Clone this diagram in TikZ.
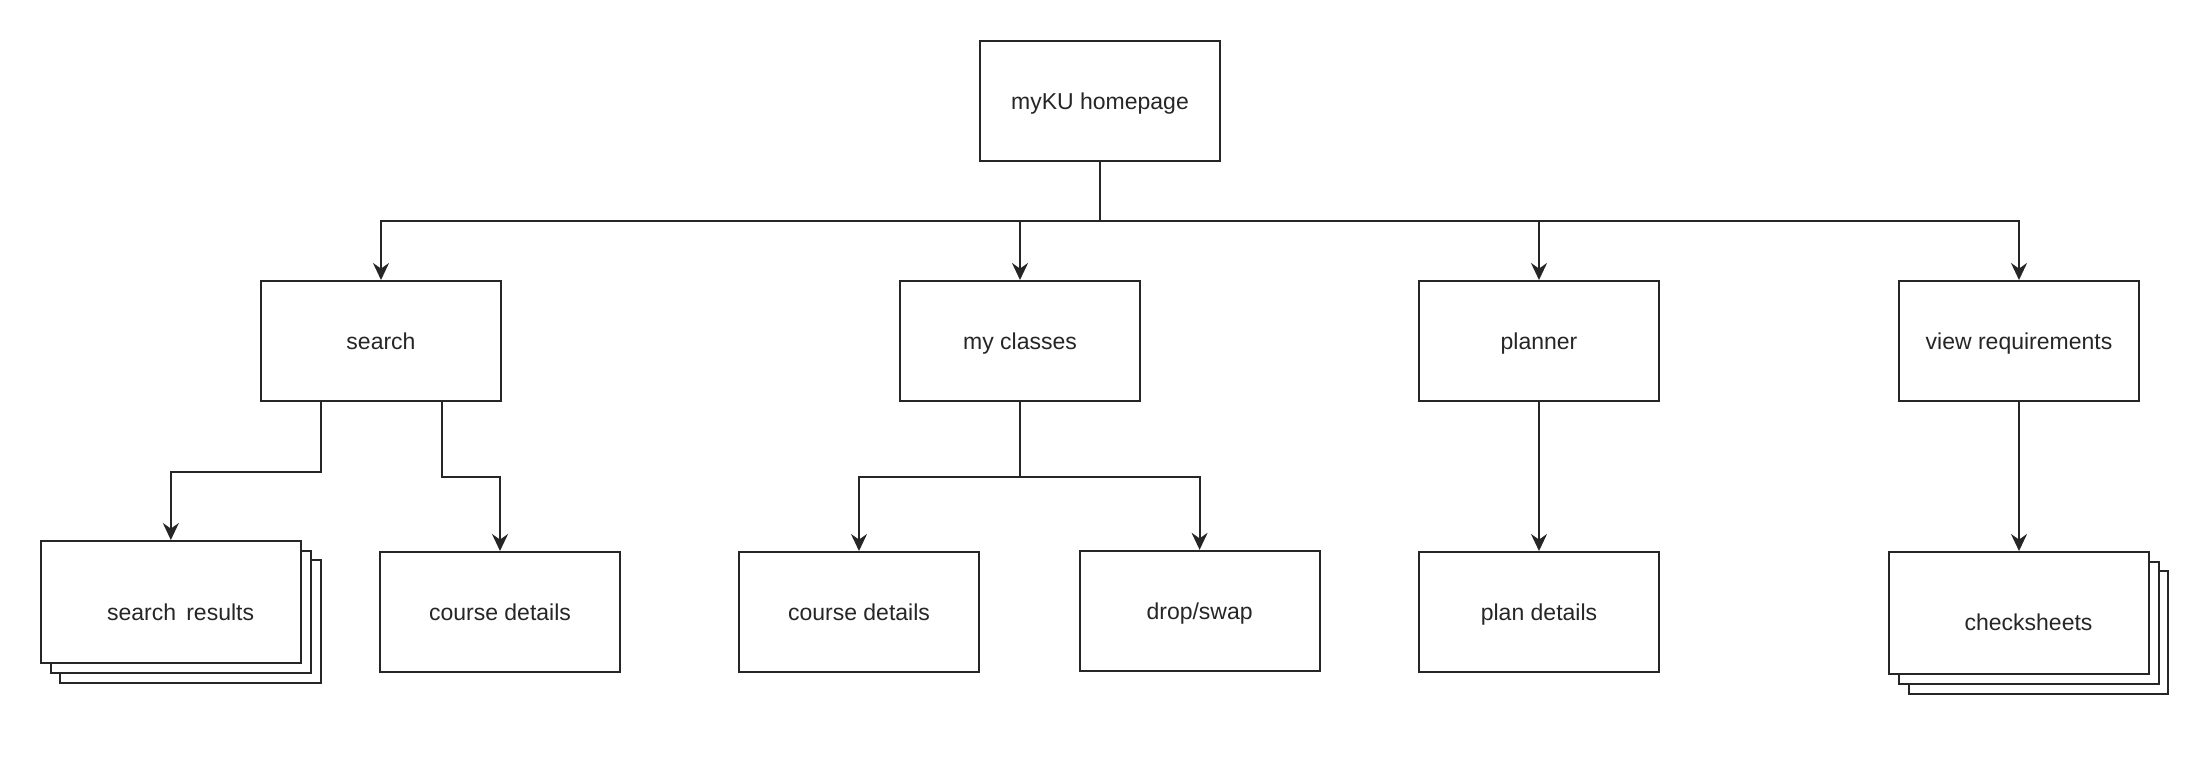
\documentclass[tikz,border=0pt]{standalone}
\usepackage{fontspec}
\setmainfont{Liberation Sans}
\usetikzlibrary{arrows.meta,calc}
\definecolor{ink}{HTML}{262626}
\tikzset{
  txt/.style={text=ink, font=\fontsize{11.5}{13}\selectfont, text height=11.5pt, text depth=3pt},
  box/.style={draw=ink, line width=1pt, fill=white, minimum width=120pt, minimum height=60pt, inner sep=0pt, txt},
  plainbox/.style={draw=ink, line width=1pt, fill=white},
  lbl/.style={txt, inner sep=0pt},
  arr/.style={draw=ink, line width=1pt, -{Stealth[length=8.5pt,width=8pt,inset=2.8pt]}},
  ln/.style={draw=ink, line width=1pt}
}
\begin{document}
\begin{tikzpicture}[x=0.5pt,y=-0.5pt]
\useasboundingbox[fill=white] (0,0) rectangle (2200,783);

% root
\node[box] (root) at (1100,100.5) {myKU homepage};
\coordinate (bus) at (1100,221);

% level 1
\node[box] (search) at (381,341) {search};
\node[box] (classes) at (1020,341) {my classes};
\node[box] (planner) at (1539,341) {planner};
\node[box] (req) at (2019,341) {view requirements};

% search results stack
\draw[plainbox] (60,560) rectangle (320.6,682.5);
\draw[plainbox] (50.5,551) rectangle (311,672.5);
\node[box, minimum width=130.15pt, minimum height=61pt] (results) at (170.85,602) {};
\node[lbl] (resultslbl) at (180.6,612) {search\, results};

% level 2
\node[box] (course1) at (500,612) {course details};
\node[box] (course2) at (859,612) {course details};
\node[box] (drop) at (1199.6,610.8) {drop/swap};
\node[box] (plan) at (1539,612) {plan details};

% checksheets stack
\draw[plainbox] (1908.8,571) rectangle (2168.4,693.5);
\draw[plainbox] (1899,561.5) rectangle (2158.6,683.5);
\node[box, minimum width=130.1pt, minimum height=60.75pt] (checks) at (2019,612.75) {};
\node[lbl] (checkslbl) at (2028.5,622) {checksheets};

% connectors from root
\draw[ln] (root.south) -- (bus);
\draw[arr] (bus) -| (search.north);
\draw[arr] (bus) -| (classes.north);
\draw[arr] (bus) -| (planner.north);
\draw[arr] (bus) -| (req.north);

% search children
\coordinate (sL) at ($(search.south west)!0.25!(search.south east)$);
\coordinate (sR) at ($(search.south west)!0.75!(search.south east)$);
\draw[arr] (sL) -- ++(0,70) -| (results.north);
\draw[arr] (sR) -- ++(0,75) -| (course1.north);

% my classes children
\coordinate (cJ) at ($(classes.south)+(0,75)$);
\draw[ln] (classes.south) -- (cJ);
\draw[arr] (cJ) -| (course2.north);
\draw[arr] (cJ) -| (drop.north);

% planner, requirements
\draw[arr] (planner.south) -- (plan.north);
\draw[arr] (req.south) -- (checks.north);
\end{tikzpicture}
\end{document}
